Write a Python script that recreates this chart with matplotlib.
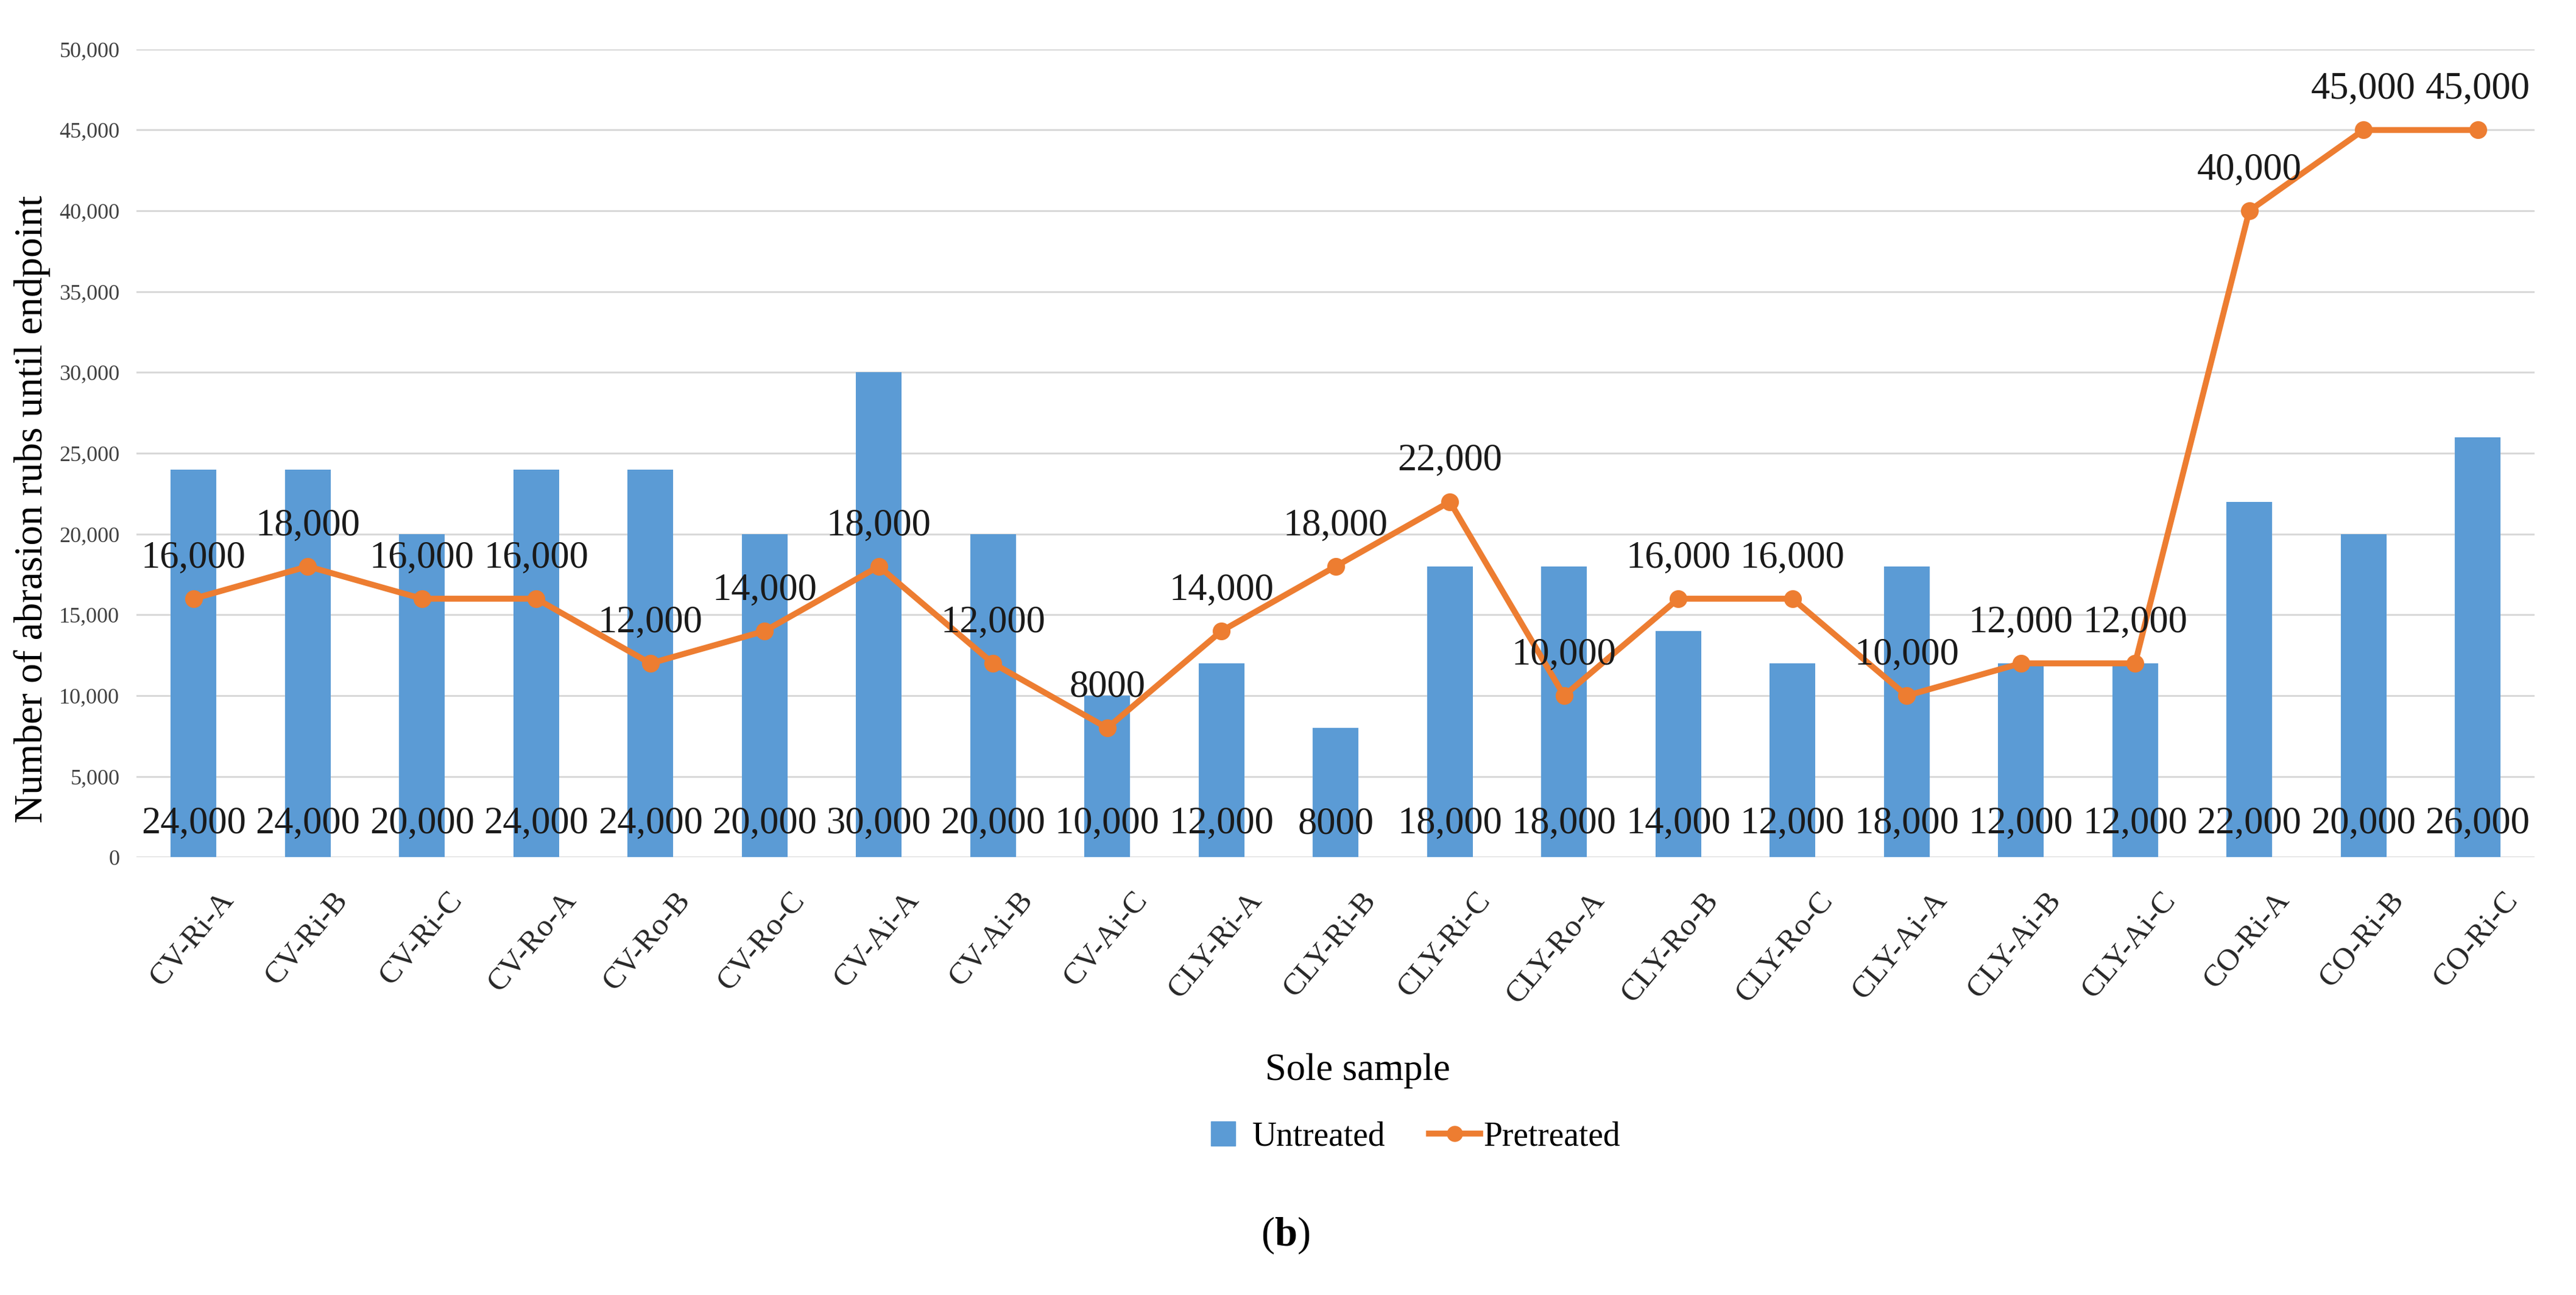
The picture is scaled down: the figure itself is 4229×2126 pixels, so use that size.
import numpy as np
import matplotlib
matplotlib.use("Agg")
import matplotlib.pyplot as plt
from matplotlib.lines import Line2D
from matplotlib.ticker import FuncFormatter
from matplotlib.transforms import ScaledTranslation

samples = ["CV-Ri-A", "CV-Ri-B", "CV-Ri-C", "CV-Ro-A", "CV-Ro-B", "CV-Ro-C",
           "CV-Ai-A", "CV-Ai-B", "CV-Ai-C", "CLY-Ri-A", "CLY-Ri-B", "CLY-Ri-C",
           "CLY-Ro-A", "CLY-Ro-B", "CLY-Ro-C", "CLY-Ai-A", "CLY-Ai-B", "CLY-Ai-C",
           "CO-Ri-A", "CO-Ri-B", "CO-Ri-C"]
untreated = [24000, 24000, 20000, 24000, 24000, 20000, 30000, 20000, 10000,
             12000, 8000, 18000, 18000, 14000, 12000, 18000, 12000, 12000,
             22000, 20000, 26000]
pretreated = [16000, 18000, 16000, 16000, 12000, 14000, 18000, 12000, 8000,
              14000, 18000, 22000, 10000, 16000, 16000, 10000, 12000, 12000,
              40000, 45000, 45000]

blue = "#5B9BD5"
orange = "#ED7D31"
grid = "#D9D9D9"

plt.rcParams['font.family'] = ['Liberation Serif', 'DejaVu Serif']
plt.rcParams['mathtext.fontset'] = 'custom'
plt.rcParams['mathtext.rm'] = 'Liberation Serif'
plt.rcParams['mathtext.bf'] = 'Liberation Serif:bold'


def fmt(v):
    # excel style: no separator below 10,000
    return f"{v:,}" if v >= 10000 else str(v)


fig = plt.figure(figsize=(42.29, 21.26), dpi=100)
ax = fig.add_axes([0.053, 0.338, 0.931, 0.624])

x = np.arange(len(samples))
ax.bar(x, untreated, width=0.4, color=blue, zorder=2)
ax.plot(x, pretreated, color=orange, lw=7, marker='o', ms=20, zorder=3)

for i in range(len(samples)):
    ax.text(x[i], 2050, fmt(untreated[i]), ha='center', va='center',
            fontsize=45, color='#1a1a1a', zorder=4)
    ax.annotate(fmt(pretreated[i]), (x[i], pretreated[i]), xytext=(0, 48),
                textcoords='offset points', ha='center', va='center',
                fontsize=45, color='#1a1a1a', zorder=4)

ax.set_xlim(-0.5, len(samples) - 0.5)
ax.set_ylim(0, 50000)
ax.set_yticks(np.arange(0, 50001, 5000))
ax.yaxis.set_major_formatter(FuncFormatter(lambda v, p: f"{int(v):,}"))
ax.grid(axis='y', color=grid, lw=2.2, zorder=0)
ax.set_axisbelow(True)
for s in ax.spines.values():
    s.set_visible(False)
ax.tick_params(axis='both', length=0)
ax.tick_params(axis='y', labelsize=26, pad=20, labelcolor='#404040')
ax.set_xticks(x)
ax.set_xticklabels(samples, rotation=50, ha='right', rotation_mode='anchor',
                   fontsize=37, color='#262626')
ax.tick_params(axis='x', pad=34)
shift = ScaledTranslation(0.4, 0, fig.dpi_scale_trans)
for lab in ax.get_xticklabels():
    lab.set_transform(lab.get_transform() + shift)

fig.text(0.0125, 0.607, "Number of abrasion rubs until endpoint", rotation=90,
         ha='center', va='center', fontsize=47)
fig.text(0.527, 0.173, "Sole sample", ha='center', va='center', fontsize=45)

handles = [Line2D([], [], ls='', marker='s', ms=29, color=blue),
           Line2D([], [], color=orange, lw=7, marker='o', ms=18)]
fig.legend(handles, ["Untreated", "Pretreated"], loc='center',
           bbox_to_anchor=(0.547, 0.122), ncol=2, frameon=False, fontsize=40,
           handlelength=1.5, handletextpad=0.1, columnspacing=1.3)

fig.text(0.499, 0.046, r"($\mathbf{b}$)", ha='center', va='center', fontsize=48)

fig.savefig("out.png", dpi=100)
